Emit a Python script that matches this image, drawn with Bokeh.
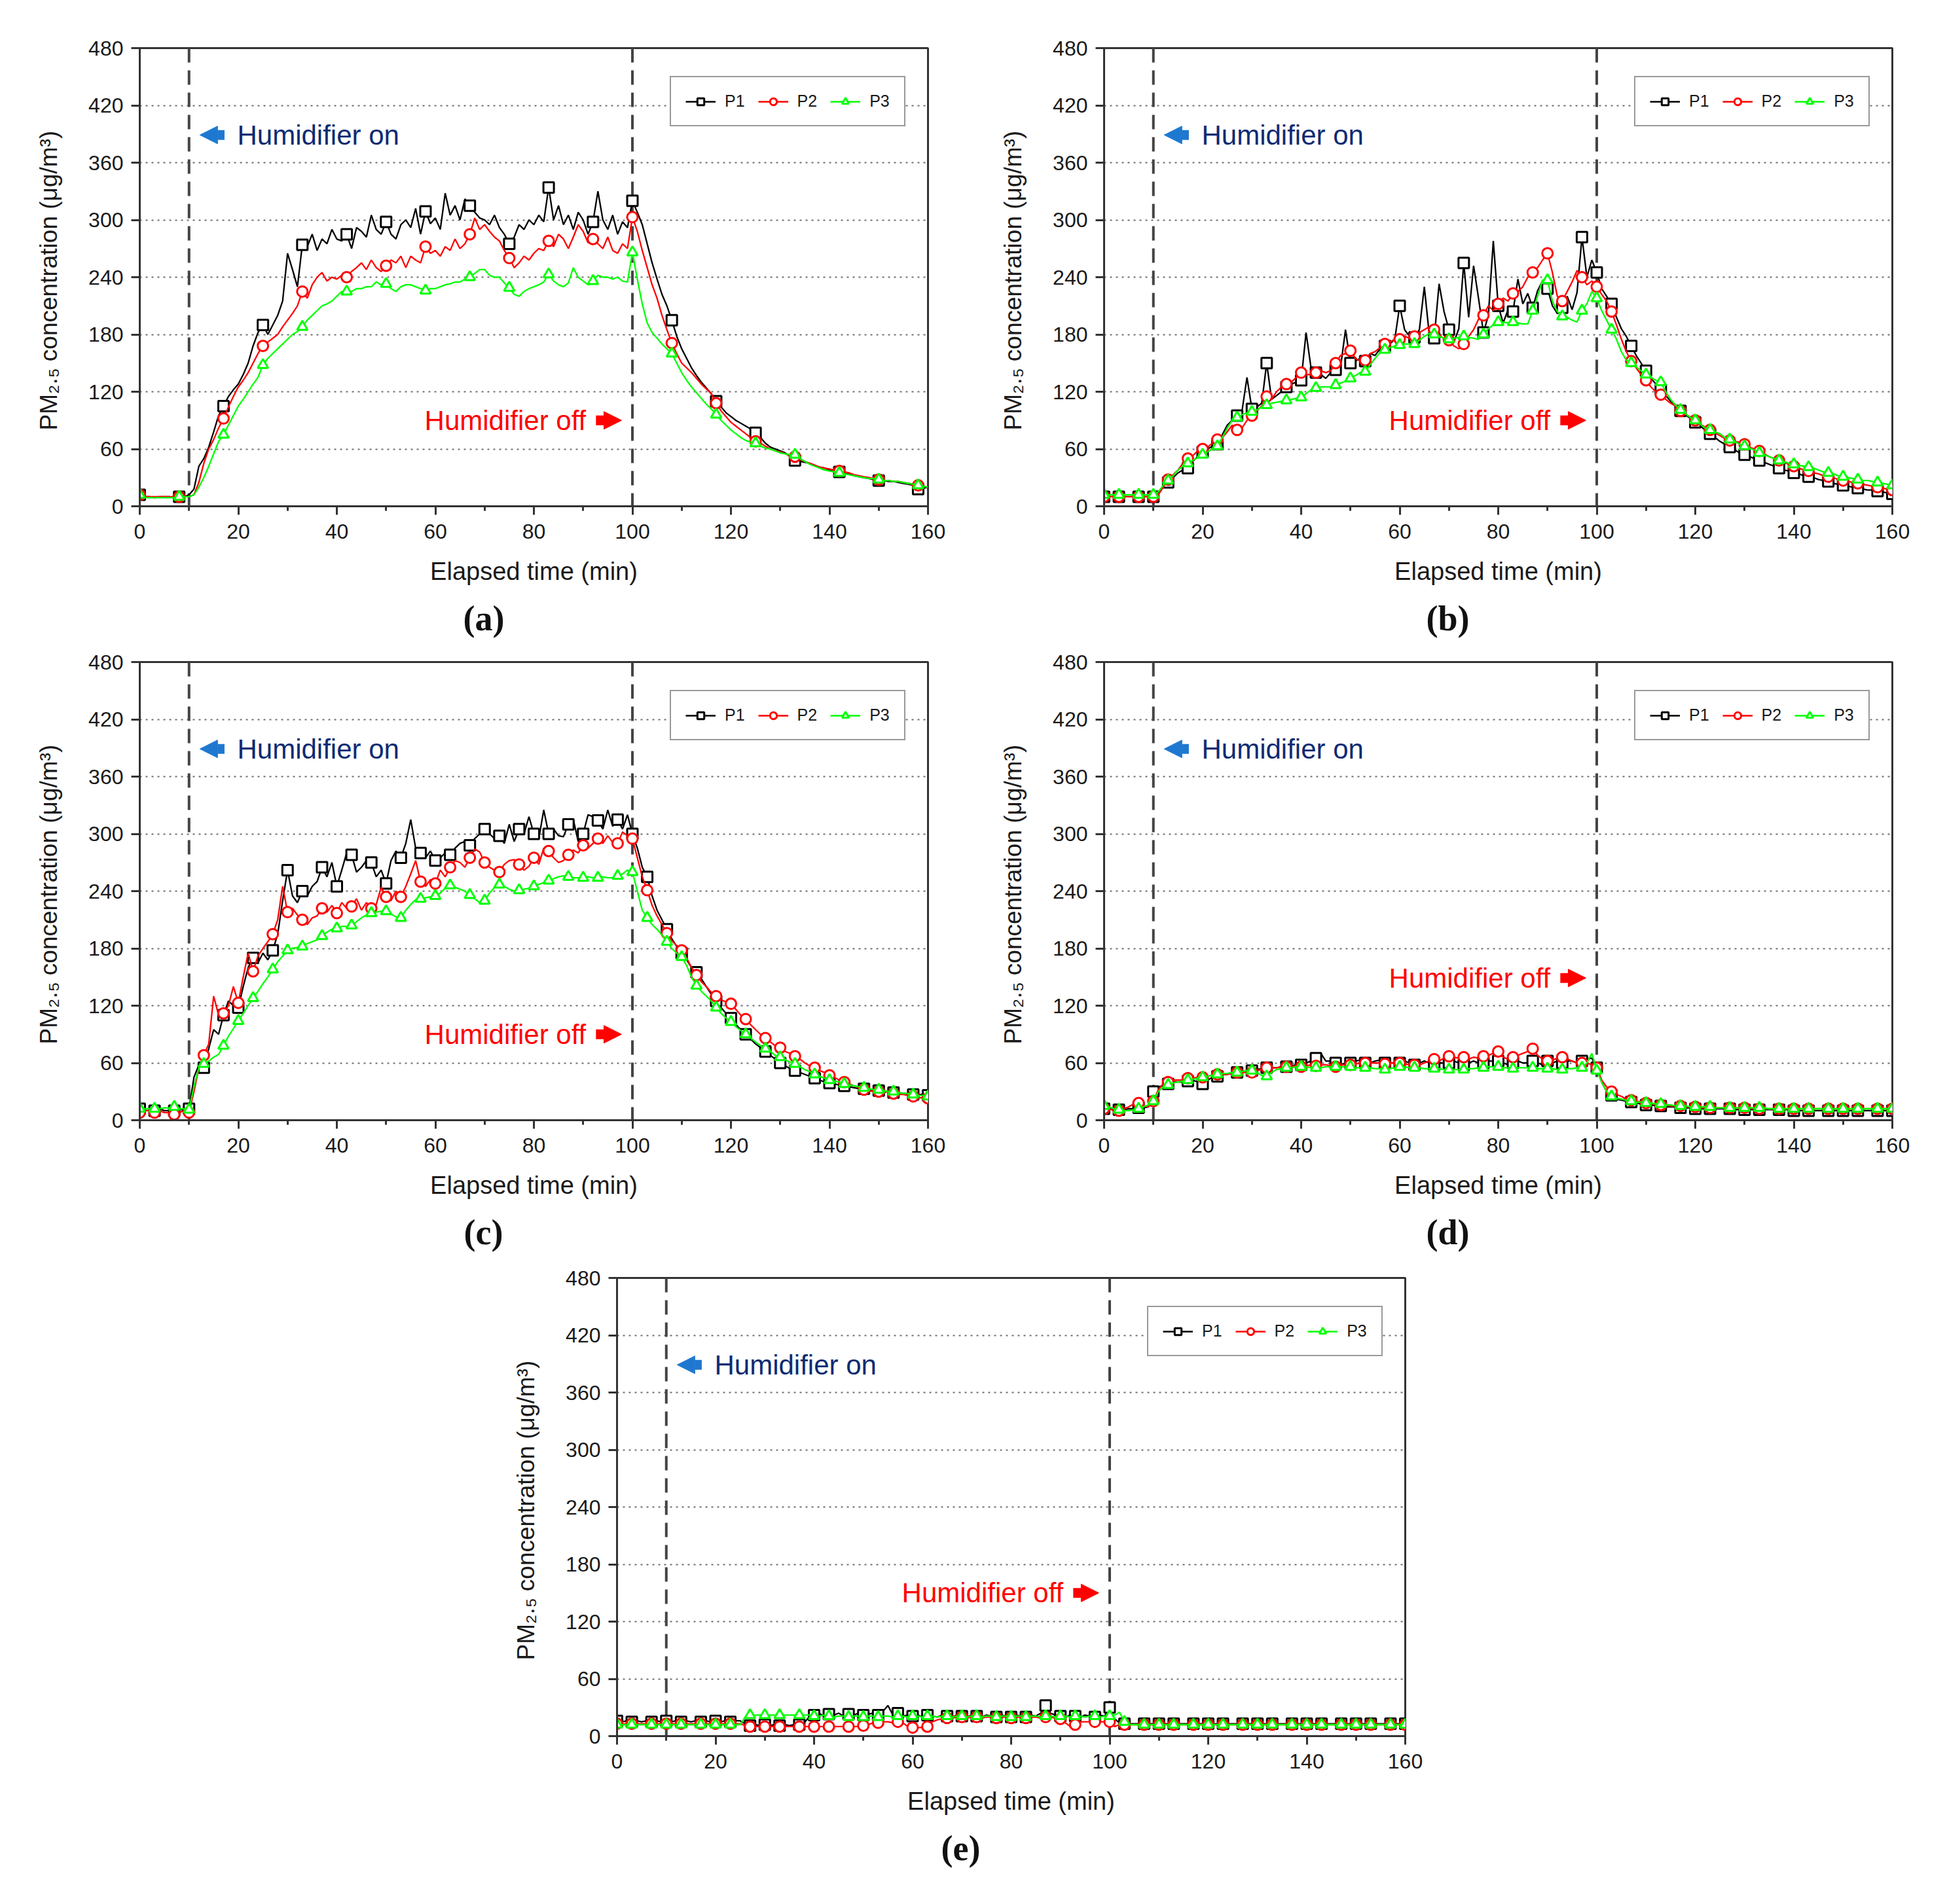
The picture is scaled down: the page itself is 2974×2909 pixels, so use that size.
from bokeh.plotting import figure
from bokeh.models import (Range1d, FixedTicker, Span, Label, Arrow, NormalHead,
                          Legend, LegendItem, Title, Spacer)
from bokeh.layouts import row, column
from bokeh.embed import file_html
from bokeh.resources import INLINE

# ---------------- data (1-min resolution) ----------------
TIME = list(range(161))

X_TICKS = [0, 20, 40, 60, 80, 100, 120, 140, 160]
X_MINOR = [10, 30, 50, 70, 90, 110, 130, 150]
Y_TICKS = [0, 60, 120, 180, 240, 300, 360, 420, 480]
SERIES_NAMES = ["P1", "P2", "P3"]
PANEL_TAGS = ["(a)", "(b)", "(c)", "(d)", "(e)"]

A_P1 = [12,10,10,9,10,10,10,9,10,10,
        12,18,42,50,62,78,95,105,115,122,
        128,138,150,168,182,190,180,190,200,215,
        265,248,230,274,272,285,268,280,275,290,
        280,278,285,270,292,288,282,305,290,285,
        298,285,280,295,300,292,312,285,309,296,
        302,290,328,305,315,300,322,315,308,302,
        300,295,305,292,285,275,282,295,290,300,
        295,305,298,334,300,315,295,305,290,308,
        300,285,298,330,300,290,305,285,298,292,
        320,308,295,275,255,238,222,210,195,178,
        165,155,145,137,130,124,118,110,104,98,
        94,90,87,84,81,77,72,66,62,60,
        58,56,52,48,47,46,45,43,41,40,
        38,37,36,35,34,32,31,30,29,28,
        27,27,26,26,25,24,23,22,18,19,
        20]
A_P2 = [12,10,10,10,10,10,10,10,10,10,
        10,12,25,45,60,70,82,92,104,115,
        125,132,140,150,160,168,172,176,180,188,
        195,202,210,225,218,232,240,245,236,240,
        238,242,240,246,250,255,248,258,250,246,
        252,258,255,262,250,262,258,255,272,265,
        268,262,272,268,280,270,275,285,302,290,
        295,288,282,278,268,260,250,255,262,258,
        265,270,268,278,272,285,280,270,282,295,
        288,276,280,275,270,282,268,265,275,270,
        303,288,268,250,232,218,200,185,171,160,
        150,145,140,134,128,123,118,108,100,94,
        88,84,80,76,72,68,66,63,60,58,
        57,55,53,52,49,47,45,43,41,40,
        39,38,37,36,35,33,32,31,30,29,
        28,27,27,26,26,25,24,23,22,21,
        20]
A_P3 = [12,9,9,9,9,9,9,9,10,10,
        10,12,20,30,42,55,68,75,85,95,
        105,112,120,128,135,148,155,160,165,170,
        175,180,183,188,195,200,205,210,212,215,
        220,225,225,225,228,228,230,230,235,232,
        233,228,225,230,232,232,230,228,226,228,
        228,230,232,233,235,235,238,240,244,248,
        248,242,240,240,234,229,222,220,225,228,
        230,232,235,243,236,232,230,234,250,240,
        236,232,236,242,240,240,238,240,236,235,
        266,238,212,192,182,176,170,165,160,150,
        140,132,125,119,113,107,102,96,90,85,
        80,76,72,69,67,66,63,61,60,58,
        56,55,54,54,50,47,44,42,40,38,
        37,36,35,34,33,32,31,30,29,29,
        28,27,27,26,26,25,24,23,22,21,
        20]

B_P1 = [10,10,10,10,10,10,10,10,10,10,
        10,15,20,25,30,35,38,40,47,52,
        57,60,63,65,75,85,90,95,100,135,
        102,104,108,150,112,116,120,125,128,130,
        132,182,145,140,138,134,140,143,146,185,
        150,152,155,152,160,158,165,168,170,175,
        210,185,178,177,185,230,180,176,233,204,
        185,172,186,255,198,252,218,182,200,278,
        210,192,206,204,238,212,223,208,226,236,
        228,210,202,208,220,206,224,282,240,258,
        245,228,220,212,198,186,178,168,158,150,
        142,134,128,122,116,110,106,100,96,92,
        88,84,80,76,72,68,65,62,59,56,
        54,52,50,48,46,44,42,40,38,37,
        35,34,32,31,30,28,27,26,24,23,
        22,21,20,19,18,17,17,16,15,14,
        13]
B_P2 = [10,10,10,10,10,10,10,10,10,10,
        10,12,20,28,33,38,45,50,53,58,
        60,62,66,70,72,78,85,80,82,90,
        95,100,105,115,112,120,125,128,130,135,
        140,138,138,140,142,140,142,150,158,160,
        163,155,152,153,160,162,166,170,172,175,
        175,178,176,178,182,185,188,185,180,175,
        174,168,165,170,178,185,196,200,210,205,
        212,218,215,223,225,230,240,245,250,258,
        265,245,220,215,225,235,247,240,232,236,
        230,222,215,204,190,175,162,152,145,138,
        132,125,120,117,112,108,105,100,97,93,
        90,86,83,80,77,74,71,69,68,67,
        65,62,60,58,55,52,50,48,46,44,
        42,40,38,37,35,34,32,31,30,28,
        27,26,25,24,23,22,21,20,19,18,
        17]
B_P3 = [12,12,12,12,12,12,12,12,12,12,
        12,15,22,27,32,38,42,45,48,51,
        54,57,60,63,72,82,90,93,96,98,
        99,101,104,106,108,109,110,111,112,113,
        114,118,122,124,125,125,125,127,129,131,
        134,137,140,141,148,155,161,164,166,168,
        169,170,170,170,174,178,181,180,178,176,
        175,176,177,178,177,176,175,180,186,190,
        193,193,192,193,192,191,191,205,220,237,
        237,215,204,199,198,195,193,205,212,225,
        218,205,195,185,175,162,153,150,146,142,
        138,135,132,130,120,112,106,101,97,93,
        90,86,82,80,78,76,72,70,68,65,
        63,61,59,56,54,52,50,48,47,45,
        44,43,42,41,40,38,36,35,34,32,
        31,30,29,28,27,27,26,25,24,23,
        22]

C_P1 = [12,10,10,10,12,10,10,10,12,10,
        12,45,58,55,75,95,90,110,125,120,
        118,140,160,170,165,175,168,178,195,230,
        262,235,228,240,235,245,250,265,255,270,
        245,262,280,278,260,265,272,270,255,262,
        248,272,282,275,290,315,285,280,275,282,
        272,275,280,278,285,290,292,288,295,300,
        305,300,295,298,290,310,292,305,300,318,
        300,295,325,300,305,298,297,310,315,292,
        300,320,318,314,305,325,308,315,305,320,
        300,285,265,255,235,220,210,200,190,182,
        175,168,160,155,148,140,132,125,118,112,
        107,100,95,90,85,80,76,72,68,64,
        60,57,54,52,50,48,46,44,42,40,
        39,38,37,36,35,34,33,33,32,31,
        31,30,30,29,29,28,28,27,27,27,
        26]
C_P2 = [8,10,10,8,10,8,8,6,8,10,
        8,30,55,68,80,130,110,112,120,140,
        123,150,175,156,172,180,187,195,210,245,
        218,222,215,210,205,212,214,222,218,225,
        217,228,222,224,232,220,228,222,226,244,
        234,230,240,234,245,258,272,250,245,252,
        248,262,255,265,272,270,265,275,284,281,
        270,265,262,260,268,272,273,268,262,266,
        275,268,285,282,275,270,272,278,283,280,
        288,285,290,295,290,298,291,290,302,298,
        295,275,255,241,225,214,205,196,188,183,
        178,170,160,152,145,140,134,130,126,124,
        122,116,110,106,100,95,90,86,82,78,
        76,72,70,67,64,60,57,55,52,50,
        47,45,42,40,38,36,34,32,31,30,
        30,29,30,28,27,27,26,25,24,23,
        23]
C_P3 = [12,12,12,12,12,13,13,14,12,12,
        11,35,55,59,62,66,69,78,88,96,
        104,112,120,128,135,143,150,158,166,172,
        178,180,181,182,185,187,189,193,197,200,
        201,203,203,204,208,212,215,217,218,219,
        219,216,213,212,220,226,231,232,233,234,
        235,238,243,246,244,242,240,236,232,228,
        230,238,244,247,245,242,240,241,242,243,
        245,247,249,251,253,255,256,255,254,254,
        254,255,254,254,255,254,254,256,258,262,
        260,240,220,212,205,200,194,187,180,175,
        171,162,150,141,135,130,125,118,112,107,
        103,98,94,90,86,82,78,75,72,68,
        66,63,61,59,56,53,51,48,46,44,
        42,41,40,38,37,36,35,34,33,32,
        32,31,30,30,29,28,28,27,26,26,
        25]

D_P1 = [12,12,12,11,11,12,12,13,13,14,
        30,35,36,38,40,40,40,41,42,40,
        38,42,45,46,48,48,50,50,51,52,
        52,53,54,55,55,55,56,56,57,58,
        58,60,62,65,70,62,62,60,58,60,
        60,62,63,60,60,62,63,60,60,60,
        60,62,60,58,60,62,60,58,60,60,
        60,62,60,58,60,62,60,60,62,62,
        62,60,58,60,62,60,60,62,60,58,
        62,60,62,60,62,62,60,62,64,65,
        55,40,30,26,22,21,20,19,18,17,
        16,16,15,15,14,14,14,13,13,13,
        12,12,12,12,12,12,12,12,11,11,
        11,11,11,11,11,11,11,11,11,11,
        10,10,10,10,10,10,10,10,10,10,
        10,10,10,10,10,10,10,10,10,10,
        10]
D_P2 = [12,12,10,10,12,14,17,18,15,14,
        20,32,38,40,42,42,42,44,44,45,
        45,46,47,48,48,48,49,50,50,50,
        50,52,53,55,55,55,56,56,56,57,
        56,57,58,57,58,58,57,56,58,58,
        58,59,60,60,60,60,60,59,60,60,
        60,59,58,58,58,60,62,64,62,65,
        67,66,65,66,64,66,65,67,68,70,
        72,66,64,66,68,70,72,75,68,64,
        62,63,65,66,64,62,60,60,60,58,
        55,42,35,30,27,25,22,21,20,19,
        18,17,17,16,16,15,15,15,14,14,
        14,13,13,13,13,13,13,13,13,13,
        13,13,12,12,12,12,12,12,12,12,
        12,12,12,12,12,12,12,12,12,12,
        12,12,12,12,12,12,12,12,12,12,
        12]
D_P3 = [15,14,12,11,10,10,11,12,14,16,
        20,30,35,37,39,40,41,42,43,44,
        45,46,47,48,49,49,50,50,51,52,
        52,50,47,46,50,53,54,55,55,56,
        56,56,55,55,55,56,56,56,56,56,
        56,55,55,55,55,54,54,53,54,55,
        56,56,55,55,55,54,54,54,54,53,
        53,53,53,53,54,54,55,55,56,56,
        56,55,55,54,55,55,55,55,54,54,
        54,54,53,53,54,54,55,55,60,70,
        52,40,30,25,23,22,21,20,19,19,
        18,18,17,17,16,16,15,15,15,14,
        14,14,14,14,13,13,13,13,13,13,
        13,13,13,13,13,12,12,12,12,12,
        12,12,12,12,12,12,12,12,12,12,
        12,12,12,12,12,12,12,12,12,12,
        12]

E_P1 = [16,15,16,15,16,15,16,15,16,15,
        16,15,16,15,16,15,16,15,16,15,
        16,15,16,15,16,16,13,11,12,11,
        12,11,12,11,12,11,12,12,14,20,
        22,24,21,23,22,24,21,23,22,24,
        22,23,24,22,26,32,22,24,21,22,
        21,22,20,22,21,20,22,21,20,22,
        21,20,22,21,20,22,21,20,22,21,
        20,22,21,20,22,21,24,32,24,22,
        21,20,22,21,20,22,21,20,22,21,
        30,18,14,13,13,13,13,13,13,13,
        13,13,13,13,13,13,13,13,13,13,
        13,13,13,13,13,13,13,13,13,13,
        13,13,13,13,13,13,13,13,13,13,
        13,13,13,13,13,13,13,13,13,13,
        13,13,13,13,13,13,13,13,13,13,
        13]
E_P2 = [13,13,13,13,13,13,13,13,13,13,
        13,13,13,13,13,13,13,13,13,13,
        13,13,13,13,13,13,11,10,10,10,
        10,10,10,10,10,10,10,10,10,10,
        10,10,10,10,10,10,10,10,10,10,
        11,12,14,14,15,15,14,15,14,10,
        9,9,9,10,15,17,18,19,19,20,
        20,19,20,20,19,20,20,19,20,20,
        19,20,20,19,20,20,19,20,20,19,
        18,14,10,12,15,15,15,15,15,15,
        15,10,12,12,12,12,12,12,12,12,
        12,12,12,12,12,12,12,12,12,12,
        12,12,12,12,12,12,12,12,12,12,
        12,12,12,12,12,12,12,12,12,12,
        12,12,12,12,12,12,12,12,12,12,
        12,12,12,12,12,12,12,12,12,12,
        12]
E_P3 = [12,12,12,12,12,12,12,12,12,12,
        12,12,12,12,12,12,12,12,12,12,
        12,12,12,12,12,12,20,22,22,22,
        22,22,22,22,22,22,22,22,22,22,
        21,21,22,21,20,21,21,20,21,21,
        20,21,21,20,21,21,20,21,21,20,
        21,21,20,21,21,20,21,21,20,21,
        21,20,21,21,20,21,21,20,21,21,
        20,21,21,20,21,21,20,21,21,20,
        21,21,20,21,21,20,21,21,20,21,
        21,22,25,15,12,12,12,12,12,12,
        12,12,12,12,12,12,12,12,12,12,
        12,12,12,12,12,12,12,12,12,12,
        12,12,12,12,12,12,12,12,12,12,
        12,12,12,12,12,12,12,12,12,12,
        12,12,12,12,12,12,12,12,12,12,
        12]

ON_TIME = 10
OFF_TIME = 100
ON_LABEL_Y = 389
OFF_LABEL_Y = [90, 90, 90, 149, 150]

# marker positions (indices into the 1-min series)
MARK_A = [int(round(i * 25 / 3)) for i in range(20)]
MARK_B = [int(round(i * 10 / 3)) for i in range(49)]

# ---------------- styling ----------------
COLORS = ["#000000", "#ff0000", "#00ff00"]
MARKERS = ["square", "circle", "triangle"]
FONT = "Liberation Sans"
NAVY = "#0d2c72"
ARROW_BLUE = "#1f78d0"
OFF_RED = "#ff0000"

FRAME_W = 1204
FRAME_H = 700


def make_panel(tag, series, marks, off_y, width, height, b_left, b_top):
    b_right = width - b_left - FRAME_W
    b_bottom = height - b_top - FRAME_H
    p = figure(width=width, height=height,
               x_range=Range1d(0, 160), y_range=Range1d(0, 480),
               output_backend="svg", toolbar_location=None,
               min_border_left=b_left, min_border_right=b_right,
               min_border_top=b_top, min_border_bottom=b_bottom,
               background_fill_color="white", border_fill_color="white")
    p.outline_line_color = "#333333"
    p.outline_line_width = 3

    # axes
    p.xaxis.ticker = FixedTicker(ticks=X_TICKS, minor_ticks=X_MINOR)
    p.yaxis.ticker = FixedTicker(ticks=Y_TICKS, minor_ticks=[])
    p.xaxis.axis_label = "Elapsed time (min)"
    p.yaxis.axis_label = "PM\u2082.\u2085 concentration  (\u03bcg/m\u00b3)"
    for ax in (p.xaxis[0], p.yaxis[0]):
        ax.axis_line_color = "#333333"
        ax.axis_line_width = 3
        ax.major_tick_line_color = "#333333"
        ax.major_tick_line_width = 3
        ax.major_tick_out = 13
        ax.major_tick_in = 0
        ax.minor_tick_line_color = "#333333"
        ax.minor_tick_line_width = 3
        ax.minor_tick_out = 7
        ax.minor_tick_in = 0
        ax.major_label_text_font = FONT
        ax.major_label_text_font_size = "32px"
        ax.major_label_text_color = "#1a1a1a"
        ax.axis_label_text_font = FONT
        ax.axis_label_text_font_style = "normal"
        ax.axis_label_text_color = "#1a1a1a"
    p.xaxis.major_label_standoff = 14
    p.yaxis.major_label_standoff = 12
    p.xaxis.axis_label_text_font_size = "38px"
    p.yaxis.axis_label_text_font_size = "37px"
    p.xaxis.axis_label_standoff = 26
    p.yaxis.axis_label_standoff = 37

    # grid
    p.xgrid.visible = False
    p.ygrid.ticker = FixedTicker(ticks=Y_TICKS)
    p.ygrid.grid_line_color = "#6e6e6e"
    p.ygrid.grid_line_width = 2
    p.ygrid.grid_line_dash = "3 6"

    # on / off markers
    for t in (ON_TIME, OFF_TIME):
        p.add_layout(Span(location=t, dimension="height", line_color="#444444",
                          line_width=4, line_dash="22 12", level="underlay"))

    # series
    items = []
    for name, ys, col, mk in zip(SERIES_NAMES, series, COLORS, MARKERS):
        lr = p.line(TIME, ys, line_color=col, line_width=2.3)
        mx = [TIME[i] for i in marks]
        my = [ys[i] for i in marks]
        sr = p.scatter(mx, my, marker=mk, size=16, line_color=col, line_width=3,
                       fill_color="white")
        items.append(LegendItem(label=name, renderers=[lr, sr]))

    leg = Legend(items=items, orientation="horizontal", location=(810, 580),
                 label_text_font=FONT, label_text_font_size="25px",
                 label_text_color="#1a1a1a",
                 glyph_width=46, glyph_height=26, label_standoff=14, spacing=20,
                 padding=22, margin=0,
                 border_line_color="#333333", border_line_width=2.5,
                 background_fill_color="white", background_fill_alpha=1.0)
    p.add_layout(leg, "center")

    # annotations
    p.add_layout(Arrow(x_start=17.2, y_start=ON_LABEL_Y, x_end=12.2, y_end=ON_LABEL_Y,
                       line_color=ARROW_BLUE, line_width=15,
                       end=NormalHead(size=27, fill_color=ARROW_BLUE,
                                      line_color=ARROW_BLUE, line_width=1)))
    p.add_layout(Label(x=19.8, y=ON_LABEL_Y, text="Humidifier on", text_font=FONT,
                       text_font_size="42px", text_color=NAVY, text_baseline="middle"))
    p.add_layout(Arrow(x_start=92.6, y_start=off_y, x_end=97.8, y_end=off_y,
                       line_color=OFF_RED, line_width=15,
                       end=NormalHead(size=27, fill_color=OFF_RED,
                                      line_color=OFF_RED, line_width=1)))
    p.add_layout(Label(x=90.6, y=off_y, text="Humidifier off", text_font=FONT,
                       text_font_size="42px", text_color=OFF_RED,
                       text_baseline="middle", text_align="right"))

    # caption
    cap_w = {"(a)": 63, "(b)": 66, "(c)": 60, "(d)": 66, "(e)": 60}[tag]
    p.add_layout(Title(text=tag, align="left", offset=525 - cap_w // 2,
                       text_font="Liberation Serif", text_font_size="54px",
                       text_font_style="bold", text_color="#111111", standoff=32),
                 "below")
    return p


pa = make_panel(PANEL_TAGS[0], [A_P1, A_P2, A_P3], MARK_A, OFF_LABEL_Y[0], 1480, 991, 213, 73)
pb = make_panel(PANEL_TAGS[1], [B_P1, B_P2, B_P3], MARK_B, OFF_LABEL_Y[1], 1480, 991, 206, 73)
pc = make_panel(PANEL_TAGS[2], [C_P1, C_P2, C_P3], MARK_B, OFF_LABEL_Y[2], 1480, 941, 213, 20)
pd = make_panel(PANEL_TAGS[3], [D_P1, D_P2, D_P3], MARK_B, OFF_LABEL_Y[3], 1480, 941, 206, 20)
pe = make_panel(PANEL_TAGS[4], [E_P1, E_P2, E_P3], MARK_B, OFF_LABEL_Y[4], 1480, 969, 205, 20)

layout = column(row(pa, pb), row(pc, pd), row(Spacer(width=737, height=969), pe))

with open("out.html", "w") as f:
    f.write(file_html(layout, INLINE))
